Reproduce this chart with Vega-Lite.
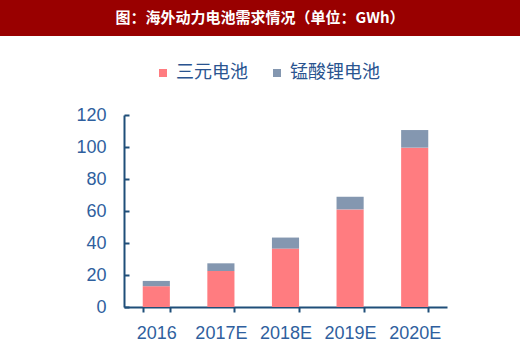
{
  "$schema": "https://vega.github.io/schema/vega-lite/v6.json",
  "padding": 0,
  "background": "white",
  "spacing": 70,
  "config": {"view": {"stroke": null}, "font": "Liberation Sans"},
  "vconcat": [
    {
      "width": 520,
      "height": 36,
      "view": {"fill": "#990000", "stroke": null},
      "data": {"values": [{"t": "图：海外动力电池需求情况（单位：GWh）"}]},
      "mark": {"type": "text", "color": "white", "font": "Noto Sans CJK SC", "fontWeight": "bold", "fontSize": 15},
      "encoding": {"text": {"field": "t", "type": "nominal"}}
    },
    {
      "spacing": 0,
      "hconcat": [
        {
          "width": 75,
          "height": 10,
          "data": {"values": []},
          "mark": {"type": "text"},
          "encoding": {}
        },
        {
          "width": 323,
          "height": 192,
          "data": {"values": [
            {"year": "2016", "type": "三元电池", "value": 13.0},
            {"year": "2016", "type": "锰酸锂电池", "value": 3.3},
            {"year": "2017E", "type": "三元电池", "value": 22.5},
            {"year": "2017E", "type": "锰酸锂电池", "value": 4.8},
            {"year": "2018E", "type": "三元电池", "value": 36.5},
            {"year": "2018E", "type": "锰酸锂电池", "value": 6.9},
            {"year": "2019E", "type": "三元电池", "value": 61.0},
            {"year": "2019E", "type": "锰酸锂电池", "value": 7.9},
            {"year": "2020E", "type": "三元电池", "value": 99.6},
            {"year": "2020E", "type": "锰酸锂电池", "value": 11.0}
          ]},
          "mark": {"type": "bar"},
          "encoding": {
            "x": {
              "field": "year", "type": "nominal", "sort": null,
              "scale": {"paddingInner": 0.58, "paddingOuter": 0.29},
              "axis": {"title": null, "labelAngle": 0, "domainColor": "#1F4E79", "domainWidth": 2, "tickColor": "#1F4E79", "tickWidth": 2, "tickSize": 5, "tickBand": "extent", "labelFontSize": 18, "labelColor": "#2F5F9E", "labelPadding": 12, "grid": false}
            },
            "y": {
              "field": "value", "type": "quantitative", "stack": "zero",
              "scale": {"domain": [0, 120], "nice": false},
              "axis": {"title": null, "values": [0, 20, 40, 60, 80, 100, 120], "domainColor": "#1F4E79", "domainWidth": 2, "tickColor": "#1F4E79", "tickWidth": 2, "tickSize": -5, "labelFontSize": 18, "labelColor": "#2F5F9E", "labelPadding": 23, "grid": false}
            },
            "order": {"field": "type", "sort": "ascending"},
            "color": {
              "field": "type", "type": "nominal",
              "scale": {"domain": ["三元电池", "锰酸锂电池"], "range": ["#FF7C80", "#8497B0"]},
              "legend": {"orient": "none", "legendX": 154, "legendY": 64, "direction": "horizontal", "title": null, "symbolType": "square", "symbolSize": 64, "symbolStrokeWidth": 0, "labelFontSize": 18, "labelFont": "Noto Sans CJK SC", "labelColor": "#2A5490", "labelOffset": 4, "columnPadding": 20}
            }
          }
        }
      ]
    }
  ]
}
